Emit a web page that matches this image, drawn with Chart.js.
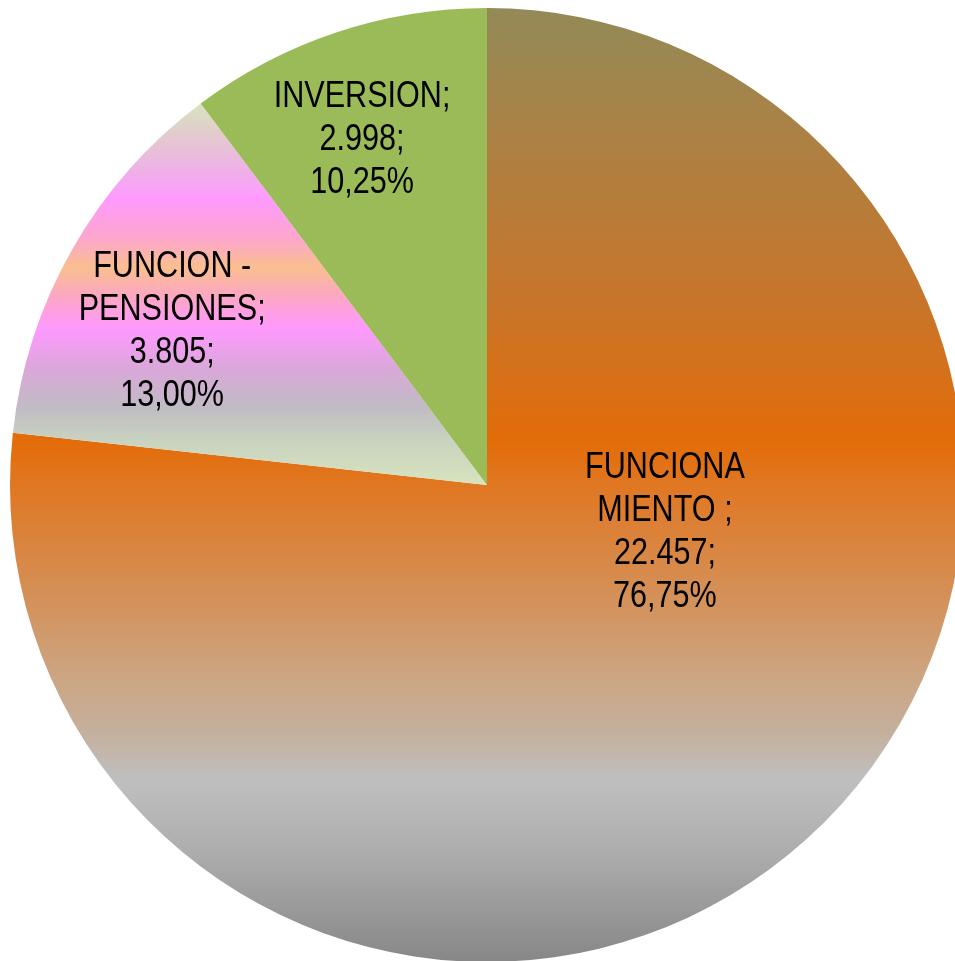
<!DOCTYPE html>
<html>
<head>
<meta charset="utf-8">
<script src="https://cdn.jsdelivr.net/npm/chart.js@4/dist/chart.umd.min.js"></script>
<style>
html,body{margin:0;padding:0;background:#fff;overflow:hidden;}
#wrap{position:absolute;left:0;top:0;width:964px;height:962px;}
</style>
</head>
<body>
<div id="wrap"><canvas id="c" width="964" height="962"></canvas></div>
<script>
// Data
const categories = ["FUNCIONA\nMIENTO ;", "FUNCION -\nPENSIONES;", "INVERSION;"];
const valueLabels = ["22.457;", "3.805;", "2.998;"];
const percentLabels = ["76,75%", "13,00%", "10,25%"];
const values = [22457, 3805, 2998];

// label anchor offsets (fraction of radius, relative to pie centre)
const labelAnchors = [[0.373, 0.099], [-0.660, -0.321], [-0.262, -0.723]];

function pieGeom(chart) {
  const a = chart.chartArea;
  return {
    cx: (a.left + a.right) / 2,
    cy: (a.top + a.bottom) / 2,
    r: Math.min(a.right - a.left, a.bottom - a.top) / 2
  };
}

function fillFor(ctx) {
  const chart = ctx.chart;
  if (!chart.chartArea) return ctx.dataIndex === 2 ? '#9bbb59' : '#e36c09';
  const g0 = pieGeom(chart);
  const cy = g0.cy, r = g0.r;
  if (!isFinite(cy) || !isFinite(r) || r <= 0) return '#e36c09';
  const c = chart.ctx;
  if (ctx.dataIndex === 0) {
    const g = c.createLinearGradient(0, cy - r, 0, cy + r);
    g.addColorStop(0.00, '#938a58');
    g.addColorStop(0.15, '#ae8042');
    g.addColorStop(0.31, '#c8752a');
    g.addColorStop(0.455, '#e36c09');
    g.addColorStop(0.50, '#e07722');
    g.addColorStop(0.62, '#d4915a');
    g.addColorStop(0.70, '#cca582');
    g.addColorStop(0.76, '#c5b09e');
    g.addColorStop(0.81, '#bfbfbf');
    g.addColorStop(0.885, '#adadad');
    g.addColorStop(1.00, '#878787');
    return g;
  }
  if (ctx.dataIndex === 1) {
    const g = c.createLinearGradient(0, cy - 0.80 * r, 0, cy);
    g.addColorStop(0.00, '#d7e4bd');
    g.addColorStop(0.09, '#e4c8d0');
    g.addColorStop(0.18, '#efb0e8');
    g.addColorStop(0.25, '#ff99ff');
    g.addColorStop(0.36, '#fca8c8');
    g.addColorStop(0.43, '#fabf8f');
    g.addColorStop(0.50, '#fca8c0');
    g.addColorStop(0.59, '#ff99ff');
    g.addColorStop(0.70, '#d8a8d8');
    g.addColorStop(0.80, '#c0bcc4');
    g.addColorStop(0.88, '#c8d2c0');
    g.addColorStop(1.00, '#d7e4bd');
    return g;
  }
  return '#9bbb59';
}

const labelPlugin = {
  id: 'sliceLabels',
  afterDatasetsDraw(chart) {
    const c = chart.ctx;
    const meta = chart.getDatasetMeta(0);
    c.save();
    c.font = "36px monospace";
    const wMono = c.measureText('PENSIONES;').width;
    c.font = "36px 'Liberation Sans Narrow', monospace";
    const wNar = c.measureText('PENSIONES;').width;
    c.font = "36px 'Liberation Sans', 'Arial', sans-serif";
    const wReg = c.measureText('PENSIONES;').width;
    c.restore();
    const hasNarrow = Math.abs(wNar - wMono) > 0.5;
    const fontStr = hasNarrow ? "36px 'Liberation Sans Narrow', sans-serif" : "36px 'Liberation Sans', Arial, sans-serif";
    // target width of 'PENSIONES;' about 187px
    const baseW = hasNarrow ? wNar : wReg;
    const sx = 187 / baseW;
    meta.data.forEach((arc, i) => {
      const r = arc.outerRadius;
      const ax = arc.x + labelAnchors[i][0] * r;
      const ay = arc.y + labelAnchors[i][1] * r;
      const lines = categories[i].split('\n').concat([valueLabels[i], percentLabels[i]]);
      const lh = 43;
      c.save();
      c.font = fontStr;
      c.fillStyle = '#000';
      c.textAlign = 'center';
      c.textBaseline = 'middle';
      c.translate(ax, ay);
      c.scale(sx, 1);
      lines.forEach((t, k) => {
        const y = (k - (lines.length - 1) / 2) * lh;
        c.fillText(t, 0, y);
      });
      c.restore();
    });
  }
};

new Chart(document.getElementById('c'), {
  type: 'pie',
  data: {
    labels: categories,
    datasets: [{
      data: values,
      backgroundColor: fillFor,
      borderWidth: 0
    }]
  },
  options: {
    responsive: false,
    animation: false,
    layout: { padding: { left: 10, top: 8, right: 0, bottom: 0 } },
    plugins: { legend: { display: false }, tooltip: { enabled: false } }
  },
  plugins: [labelPlugin]
});
</script>
</body>
</html>
